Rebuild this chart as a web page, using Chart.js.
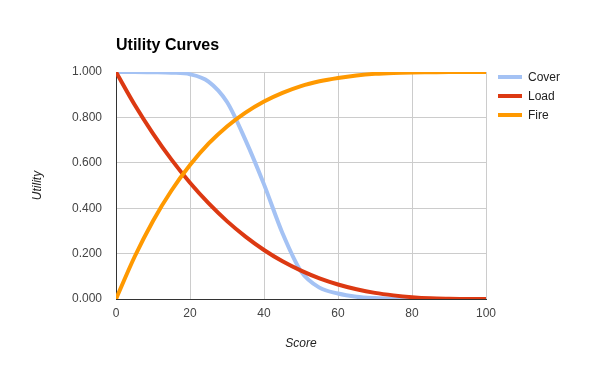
<!DOCTYPE html>
<html lang="en">
<head>
    <meta charset="utf-8">
    <script src="https://cdn.jsdelivr.net/npm/chart.js"></script>
    <style>
        body {
            margin: 0;
            padding: 0;
            background-color: #ffffff;
            font-family: "Liberation Sans", Arial, sans-serif;
        }
        #wrap {
            position: relative;
            width: 600px;
            height: 371px;
        }
        #utilityChart {
            position: absolute;
            left: 0;
            top: 0;
        }
        /* legend on the right, built from the series names */
        #legend {
            position: absolute;
            left: 498px;
            top: 67px;
            font-size: 12px;
            color: #222222;
        }
        .legend-item {
            height: 19px;
            display: flex;
            align-items: center;
        }
        .legend-swatch {
            width: 24px;
            height: 4px;
            margin-right: 6px;
        }
    </style>
</head>
<body>
    <div id="wrap">
        <canvas id="utilityChart" width="600" height="371"></canvas>
        <div id="legend"></div>
    </div>
    <script>
        // Score on the x axis, read every 5 points
        const scores = [0, 5, 10, 15, 20, 25, 30, 35, 40, 45, 50, 55, 60, 65, 70, 75, 80, 85, 90, 95, 100];
        const cover = [1.000, 1.000, 0.999, 0.997, 0.990, 0.958, 0.868, 0.700, 0.505, 0.290, 0.122, 0.050, 0.024, 0.010, 0.004, 0.001, 0.000, 0.000, 0.000, 0.000, 0.000];
        const load = [1.000, 0.857, 0.729, 0.614, 0.512, 0.422, 0.343, 0.275, 0.216, 0.166, 0.125, 0.091, 0.064, 0.043, 0.027, 0.016, 0.008, 0.003, 0.001, 0.000, 0.000];
        const fire = [0.000, 0.185, 0.344, 0.478, 0.590, 0.684, 0.760, 0.821, 0.870, 0.908, 0.938, 0.959, 0.974, 0.985, 0.992, 0.996, 0.998, 0.999, 1.000, 1.000, 1.000];

        const seriesNames = ['Cover', 'Load', 'Fire'];
        const seriesColors = ['#a4c2f4', '#dc3912', '#ff9900'];
        const yTicks = [0, 0.2, 0.4, 0.6, 0.8, 1.0];
        const xTicks = [0, 20, 40, 60, 80, 100];

        const fontFamily = '"Liberation Sans", Arial, sans-serif';

        function toPoints(values) {
            return scores.map((s, i) => ({ x: s, y: values[i] }));
        }

        const allSeries = [cover, load, fire];
        const datasets = allSeries.map((values, i) => ({
            label: seriesNames[i],
            data: toPoints(values),
            borderColor: seriesColors[i],
            backgroundColor: seriesColors[i],
            borderWidth: 4,
            pointRadius: 0,
            fill: false,
            cubicInterpolationMode: 'monotone',
            order: 3 - i // Fire on top
        }));

        const ctx = document.getElementById('utilityChart').getContext('2d');
        new Chart(ctx, {
            type: 'line',
            data: { datasets: datasets },
            options: {
                responsive: false,
                animation: false,
                events: [],
                layout: {
                    padding: { left: 0, right: 114, top: 0, bottom: 0 }
                },
                plugins: {
                    legend: { display: false },
                    tooltip: { enabled: false },
                    title: {
                        display: true,
                        text: 'Utility Curves',
                        align: 'start',
                        fullSize: false,
                        color: '#000000',
                        font: { family: fontFamily, size: 16, weight: 'bold' },
                        padding: { top: 35.5, bottom: 17.3 }
                    }
                },
                scales: {
                    x: {
                        type: 'linear',
                        min: 0,
                        max: 100,
                        afterFit: scale => { scale.height = 72; },
                        afterBuildTicks: scale => {
                            scale.ticks = xTicks.map(v => ({ value: v }));
                        },
                        ticks: {
                            padding: 7,
                            color: '#444444',
                            font: { family: fontFamily, size: 12 },
                            maxRotation: 0,
                            callback: v => String(v)
                        },
                        grid: { color: '#cccccc', drawTicks: false },
                        border: { color: '#333333' },
                        title: {
                            display: true,
                            text: 'Score',
                            color: '#222222',
                            font: { family: fontFamily, size: 12, style: 'italic' },
                            padding: { top: 0, bottom: 20 }
                        }
                    },
                    y: {
                        min: 0,
                        max: 1,
                        afterFit: scale => { scale.width = 116; },
                        afterBuildTicks: scale => {
                            scale.ticks = yTicks.map(v => ({ value: v }));
                        },
                        ticks: {
                            padding: 14,
                            color: '#444444',
                            font: { family: fontFamily, size: 12 },
                            callback: v => v.toFixed(3)
                        },
                        grid: { color: '#cccccc', drawTicks: false },
                        border: { color: '#333333' },
                        title: {
                            display: true,
                            text: 'Utility',
                            color: '#222222',
                            font: { family: fontFamily, size: 12, style: 'italic' },
                            padding: { top: 30, bottom: 0 }
                        }
                    }
                }
            }
        });

        // Build the legend from the series names and colours
        const legendEl = document.getElementById('legend');
        seriesNames.forEach((name, i) => {
            const item = document.createElement('div');
            item.className = 'legend-item';
            const swatch = document.createElement('span');
            swatch.className = 'legend-swatch';
            swatch.style.backgroundColor = seriesColors[i];
            const label = document.createElement('span');
            label.textContent = name;
            item.appendChild(swatch);
            item.appendChild(label);
            legendEl.appendChild(item);
        });
    </script>
</body>
</html>
